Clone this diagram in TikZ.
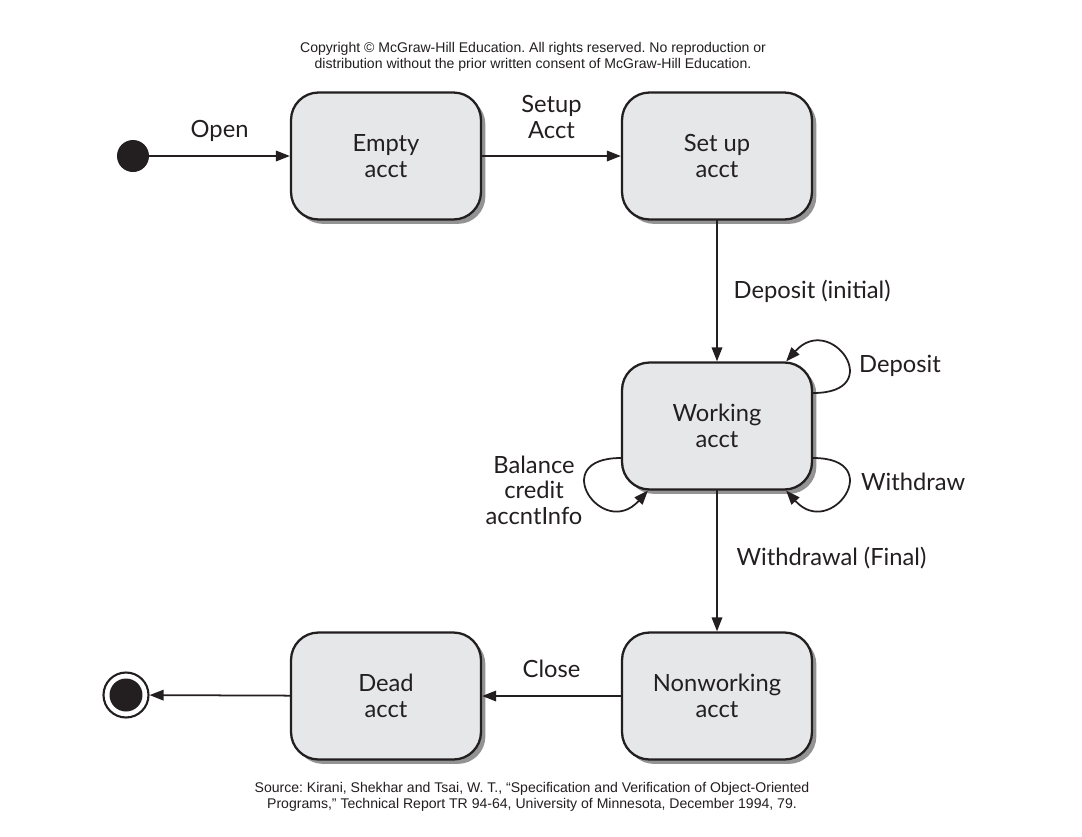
\documentclass[tikz,border=0pt]{standalone}
\usepackage{fontspec}
\setmainfont{Lato}
\newfontfamily\notefont{Liberation Sans}
\usepackage{tikz}
\usetikzlibrary{calc,arrows.meta,shadows}
\definecolor{boxgray}{HTML}{E6E7E8}
\definecolor{ink}{HTML}{231F20}

\begin{document}
\begin{tikzpicture}[x=0.02cm,y=-0.02cm,line cap=round,
  state/.style={draw=ink,line width=1.3pt,fill=boxgray,rounded corners=0.55cm,
    minimum width=3.8cm,minimum height=2.54cm,align=center,text=ink,
    font=\fontsize{13.5}{14.5}\selectfont,
    drop shadow={shadow xshift=2.5pt,shadow yshift=-2.5pt,fill=black!60,opacity=0.7}},
  trans/.style={draw=ink,-{Triangle[length=8pt,width=6pt]},line width=1pt},
  lbl/.style={font=\fontsize{13.5}{14.5}\selectfont,align=center,text=ink,inner sep=1pt},
  note/.style={font=\notefont\fontsize{8}{9.1}\selectfont\frenchspacing,align=center,text=ink}]

  % page
  \useasboundingbox[fill=white] (0,0) rectangle (1082,836);

  % states
  \node[state] (empty)      at (386,156) {Empty\\acct};
  \node[state] (setup)      at (717,156) {Set up\\acct};
  \node[state] (working)    at (717,426) {Working\\acct};
  \node[state] (nonworking) at (717,696) {Nonworking\\acct};
  \node[state] (dead)       at (386,696) {Dead\\acct};

  % start and end points
  \node[circle,fill=ink,minimum size=0.64cm,inner sep=0] (init) at (133,156) {};
  \node[circle,draw=ink,line width=1.2pt,minimum size=0.9cm,inner sep=0,
    path picture={\fill[ink] (path picture bounding box.center) circle (0.33cm);}] (final) at (126,695) {};

  % transitions
  \draw[trans] (init) -- (empty) node[lbl,midway,yshift=0.5cm] {Open};
  \draw[trans] (empty) -- (setup) node[lbl,midway,yshift=0.78cm] {Setup\\Acct};
  \draw[trans] (setup) -- (working)
    node[lbl,midway,anchor=west,xshift=0.28cm] {Deposit (initial)};
  \draw[trans] (working) -- (nonworking)
    node[lbl,midway,anchor=west,xshift=0.34cm,yshift=0.06cm] {Withdrawal (Final)};
  \draw[trans] (nonworking) -- (dead) node[lbl,midway,yshift=0.54cm] {Close};
  \draw[trans] (dead) -- (final);

  % self loops on the working account
  \coordinate (depin)  at ($(working.east)+(0,-33)$);
  \coordinate (depout) at ($(working.north east)+(-27,0)$);
  \coordinate (wdin)   at ($(working.east)+(0,32)$);
  \coordinate (wdout)  at ($(working.south east)+(-27,0)$);
  \coordinate (balin)  at ($(working.west)+(0,32)$);
  \coordinate (balout) at ($(working.south west)+(27,0)$);
  \draw[trans] (depin) .. controls +(75,0) and +(45,-50) .. (depout);
  \draw[trans] (wdin) .. controls +(75,0) and +(45,50) .. (wdout);
  \draw[trans] (balin) .. controls +(-75,0) and +(-45,50) .. (balout);
  \node[lbl,anchor=west] (deplbl) at (857,366) {Deposit};
  \node[lbl,anchor=west] (wdlbl)  at (859,482) {Withdraw};
  \node[lbl] (ballbl) at (534,490) {Balance\\credit\\accntInfo};

  % credits
  \node[note] (copyright) at (533,57) {Copyright \textcopyright{} McGraw-Hill Education. All rights reserved. No reproduction or\\distribution without the prior written consent of McGraw-Hill Education.};
  \node[note] (source) at (532,797) {Source: Kirani, Shekhar and Tsai, W. T., “Specification and Verification of Object-Oriented\\Programs,” Technical Report TR 94-64, University of Minnesota, December 1994, 79.};
\end{tikzpicture}
\end{document}
